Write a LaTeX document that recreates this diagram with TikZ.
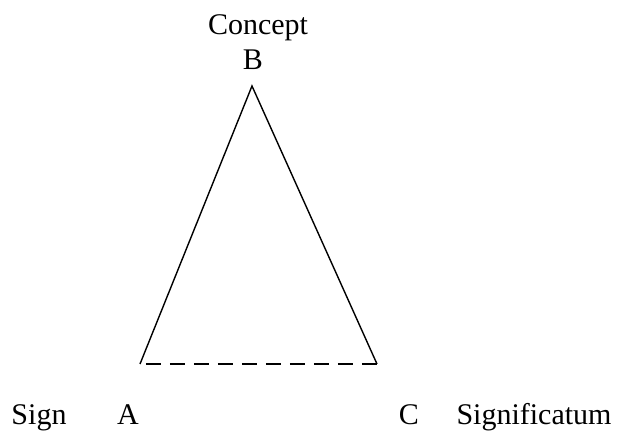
\documentclass[tikz,border=0pt]{standalone}
\usepackage{fontspec}
\setmainfont{Liberation Serif}
\usetikzlibrary{positioning}
\tikzset{
  seite/.style={black,line width=0.7pt,line join=miter},
  basis/.style={black,line width=0.7pt,dash pattern=on 7.5pt off 4.5pt},
  beschr/.style={font=\fontsize{15}{17.5}\selectfont,inner sep=0pt,anchor=base},
}

\begin{document}
\begin{tikzpicture}[x=0.5pt,y=-0.5pt]
  \useasboundingbox (0,0) rectangle (618,433);
  % Dreieck
  \coordinate (b) at (252,86);
  \coordinate (a) at (140,364);
  \coordinate (c) at (377,364);
  \coordinate (a0) at (146,364);
  \draw[seite] (a)--(b)--(c);
  \draw[basis] (a0)--(c);
  % Beschriftung
  \node[beschr] (concept) at (258,35) {Concept};
  \node[beschr] (lb) at (253,70) {B};
  \node[beschr] (sign) at (39,425) {Sign};
  \node[beschr] (la) at (128,425) {A};
  \node[beschr] (lc) at (409,425) {C};
  \node[beschr] (signif) at (534,425) {Significatum};
\end{tikzpicture}
\end{document}
